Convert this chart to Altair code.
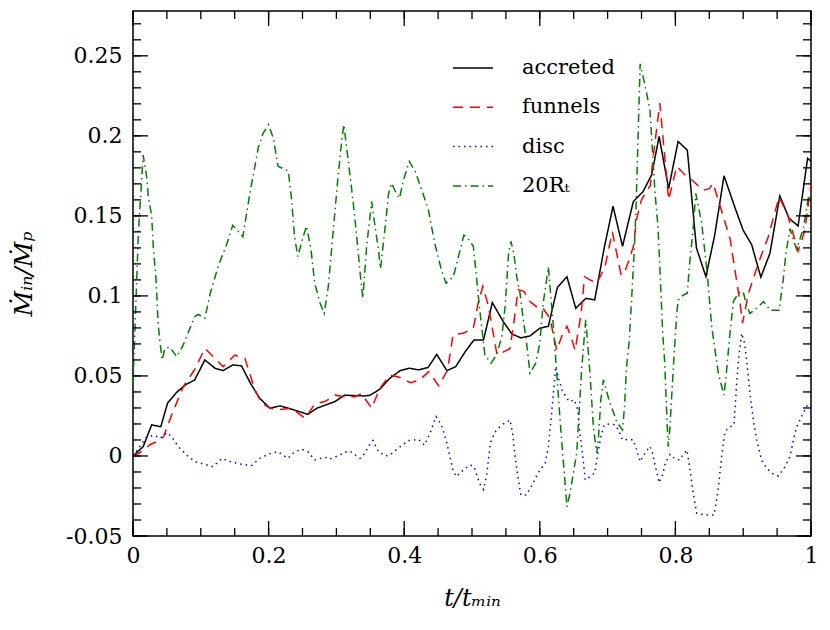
import altair as alt
import pandas as pd

# ---------------- data ----------------
acc_t = [0.0, 0.015, 0.0275, 0.041, 0.051, 0.064, 0.077, 0.091, 0.106, 0.121,
         0.133, 0.147, 0.160, 0.173, 0.187, 0.202, 0.217, 0.234, 0.258, 0.271,
         0.298, 0.312, 0.327, 0.342, 0.35, 0.364, 0.379, 0.394, 0.408, 0.421,
         0.435, 0.448, 0.463, 0.476, 0.49, 0.503, 0.517, 0.53, 0.546, 0.559,
         0.572, 0.5855, 0.6, 0.6126, 0.626, 0.64, 0.653, 0.668, 0.681, 0.695,
         0.708, 0.722, 0.738, 0.752, 0.765, 0.776, 0.79, 0.804, 0.8176, 0.831,
         0.845, 0.858, 0.8717, 0.888, 0.9, 0.9125, 0.926, 0.9395, 0.954, 0.9676,
         0.981, 0.995, 1.0]
acc_y = [0, 0.0058, 0.0194, 0.0183, 0.033, 0.0396, 0.0444, 0.0475, 0.06, 0.0548,
         0.0533, 0.0569, 0.0563, 0.0456, 0.036, 0.0298, 0.0313, 0.0292, 0.026, 0.0298,
         0.034, 0.038, 0.0377, 0.0375, 0.038, 0.0417, 0.0486, 0.0533, 0.0548, 0.0538,
         0.0552, 0.0635, 0.0533, 0.0558, 0.0652, 0.0725, 0.0725, 0.0958, 0.084, 0.0762,
         0.0738, 0.075, 0.0798, 0.081, 0.1054, 0.112, 0.0923, 0.0985, 0.0975, 0.13,
         0.156, 0.131, 0.159, 0.165, 0.1756, 0.1996, 0.167, 0.1965, 0.191, 0.13,
         0.112, 0.138, 0.175, 0.155, 0.141, 0.132, 0.1117, 0.1267, 0.1625, 0.1485,
         0.1437, 0.186, 0.184]

fun_t = [0.0, 0.01, 0.025, 0.035, 0.045, 0.057, 0.074, 0.091, 0.106, 0.121,
         0.133, 0.150, 0.165, 0.18, 0.19, 0.202, 0.212, 0.234, 0.254, 0.268,
         0.283, 0.298, 0.312, 0.327, 0.337, 0.352, 0.364, 0.379, 0.394, 0.409,
         0.423, 0.436, 0.451, 0.464, 0.472, 0.487, 0.502, 0.509, 0.516, 0.524,
         0.537, 0.556, 0.561, 0.568, 0.577, 0.5855, 0.595, 0.603, 0.615, 0.625,
         0.633, 0.64, 0.646, 0.652, 0.661, 0.666, 0.674, 0.684, 0.696, 0.707,
         0.72, 0.726, 0.733, 0.738, 0.743, 0.75, 0.763, 0.767, 0.777, 0.786,
         0.79, 0.802, 0.814, 0.8216, 0.841, 0.85, 0.8555, 0.869, 0.881, 0.895,
         0.899, 0.908, 0.922, 0.937, 0.953, 0.966, 0.981, 0.991, 1.0]
fun_y = [0, 0.002, 0.007, 0.009, 0.012, 0.0256, 0.0433, 0.054, 0.0673, 0.061,
         0.0558, 0.063, 0.061, 0.041, 0.033, 0.03, 0.0288, 0.0298, 0.0235, 0.0325,
         0.034, 0.038, 0.037, 0.037, 0.039, 0.0298, 0.0423, 0.0506, 0.049, 0.0458,
         0.0475, 0.0527, 0.0438, 0.0538, 0.0756, 0.0767, 0.0798, 0.0954, 0.106, 0.094,
         0.063, 0.067, 0.081, 0.104, 0.1027, 0.0965, 0.0933, 0.0933, 0.086, 0.066,
         0.0756, 0.081, 0.0745, 0.066, 0.089, 0.112, 0.11, 0.108, 0.118, 0.14,
         0.113, 0.116, 0.124, 0.131, 0.1485, 0.16, 0.169, 0.186, 0.2204, 0.179,
         0.16, 0.181, 0.1756, 0.1735, 0.166, 0.167, 0.1704, 0.152, 0.135, 0.0965,
         0.083, 0.102, 0.12, 0.137, 0.162, 0.15, 0.128, 0.141, 0.17]

disc_t = [0.0, 0.01, 0.02, 0.031, 0.04, 0.05, 0.057, 0.067, 0.079, 0.091,
          0.104, 0.118, 0.131, 0.143, 0.158, 0.175, 0.187, 0.2, 0.214, 0.228,
          0.239, 0.249, 0.258, 0.268, 0.283, 0.29, 0.305, 0.315, 0.32, 0.335,
          0.342, 0.35, 0.354, 0.362, 0.372, 0.379, 0.391, 0.406, 0.421, 0.43,
          0.438, 0.447, 0.455, 0.463, 0.472, 0.477, 0.483, 0.497, 0.503, 0.511,
          0.517, 0.522, 0.527, 0.534, 0.544, 0.556, 0.56, 0.563, 0.567, 0.572,
          0.58, 0.59, 0.6, 0.608, 0.6126, 0.6165, 0.62, 0.6234, 0.627, 0.633,
          0.643, 0.651, 0.656, 0.659, 0.663, 0.667, 0.674, 0.681, 0.685, 0.69,
          0.695, 0.7035, 0.711, 0.716, 0.722, 0.7306, 0.738, 0.743, 0.748, 0.7525,
          0.757, 0.7625, 0.766, 0.77, 0.776, 0.781, 0.785, 0.792, 0.7994, 0.806,
          0.811, 0.817, 0.8205, 0.8255, 0.8314, 0.839, 0.8486, 0.857, 0.86, 0.8633,
          0.8683, 0.873, 0.8795, 0.8864, 0.89, 0.893, 0.8977, 0.902, 0.905, 0.91,
          0.915, 0.92, 0.927, 0.935, 0.942, 0.952, 0.9617, 0.969, 0.974, 0.979,
          0.986, 0.996]
disc_y = [0, 0.006, 0.0117, 0.013, 0.011, 0.0146, 0.012, 0.0058, 0.0006, -0.0035,
          -0.005, -0.0067, -0.0015, -0.0035, -0.005, -0.006, -0.0015, 0.0012, 0.0027, -0.0015,
          0.0027, 0.0042, 0.0027, -0.0025, -0.0008, -0.002, 0.0006, 0.0027, 0.003, -0.0015,
          0.0017, 0.0079, 0.0096, 0.0027, 0, 0.0006, 0.0048, 0.0096, 0.0104, 0.0067,
          0.0142, 0.0246, 0.0194, 0.0079, -0.0088, -0.0129, -0.0102, -0.0056, -0.0067, -0.017,
          -0.021, -0.011, 0.008, 0.015, 0.0194, 0.0225, 0.0142, 0.0017, -0.011, -0.0244,
          -0.0244, -0.017, -0.0088, -0.0046, 0.0058, 0.0225, 0.039, 0.0558, 0.0496, 0.041,
          0.034, 0.035, 0.0288, 0.0142, 0.0017, -0.015, -0.0129, -0.0106, 0, 0.012,
          0.0194, 0.02, 0.0194, 0.0163, 0.01, 0.0104, 0.01, 0.0037, -0.0035, 0,
          0.003, 0.006, 0.002, -0.0056, -0.0167, -0.012, -0.0046, 0.001, -0.0019, -0.0025,
          0.0006, 0.0037, -0.0056, -0.021, -0.0358, -0.0364, -0.0369, -0.0369, -0.0296, -0.02,
          0, 0.0152, 0.018, 0.0194, 0.043, 0.06, 0.0767, 0.0704, 0.06, 0.039,
          0.0225, 0.01, -0.0025, -0.0077, -0.0108, -0.0125, -0.0067, -0.0004, 0.01, 0.0183,
          0.0246, 0.033]

rt_t = [0.0, 0.008, 0.015, 0.02, 0.0226, 0.0275, 0.03, 0.034, 0.037, 0.04,
        0.043, 0.047, 0.0546, 0.0644, 0.073, 0.084, 0.091, 0.096, 0.106, 0.114,
        0.126, 0.138, 0.147, 0.152, 0.162, 0.167, 0.172, 0.178, 0.185, 0.192,
        0.2, 0.207, 0.214, 0.229, 0.234, 0.238, 0.243, 0.251, 0.256, 0.2625,
        0.268, 0.276, 0.282, 0.288, 0.295, 0.302, 0.308, 0.311, 0.315, 0.3215,
        0.3265, 0.3314, 0.336, 0.339, 0.3446, 0.352, 0.357, 0.362, 0.365, 0.372,
        0.377, 0.3815, 0.386, 0.393, 0.399, 0.4075, 0.416, 0.426, 0.4355, 0.445,
        0.455, 0.4617, 0.4725, 0.48, 0.488, 0.492, 0.502, 0.507, 0.511, 0.519,
        0.528, 0.536, 0.544, 0.549, 0.554, 0.5575, 0.562, 0.566, 0.5708, 0.5757,
        0.58, 0.5855, 0.594, 0.6, 0.605, 0.61, 0.6126, 0.62, 0.625, 0.631,
        0.64, 0.6445, 0.6544, 0.659, 0.662, 0.6677, 0.6706, 0.674, 0.679, 0.684,
        0.6863, 0.69, 0.6937, 0.7035, 0.7084, 0.7134, 0.722, 0.725, 0.728, 0.7316,
        0.7345, 0.7394, 0.742, 0.748, 0.755, 0.7625, 0.767, 0.77, 0.7744, 0.777,
        0.7813, 0.784, 0.788, 0.7895, 0.792, 0.797, 0.802, 0.8043, 0.8117, 0.8176,
        0.8205, 0.8264, 0.83, 0.8388, 0.847, 0.8535, 0.8633, 0.8717, 0.875, 0.8805,
        0.8855, 0.893, 0.9, 0.905, 0.91, 0.92, 0.93, 0.94, 0.953, 0.959,
        0.963, 0.969, 0.974, 0.979, 0.984, 0.9887, 0.997]
rt_y = [0.045, 0.14, 0.188, 0.175, 0.162, 0.15, 0.13, 0.11, 0.083, 0.0704,
        0.06, 0.0673, 0.068, 0.062, 0.0683, 0.0798, 0.087, 0.0885, 0.086, 0.1017,
        0.119, 0.132, 0.144, 0.142, 0.137, 0.15, 0.163, 0.177, 0.193, 0.2017,
        0.207, 0.1985, 0.181, 0.178, 0.16, 0.138, 0.1246, 0.137, 0.1437, 0.129,
        0.108, 0.0954, 0.089, 0.1058, 0.139, 0.1725, 0.1975, 0.207, 0.193, 0.1704,
        0.1517, 0.1308, 0.11, 0.0985, 0.131, 0.159, 0.1433, 0.129, 0.117, 0.1433,
        0.164, 0.1704, 0.166, 0.161, 0.1725, 0.184, 0.178, 0.166, 0.154, 0.133,
        0.116, 0.108, 0.112, 0.1246, 0.138, 0.137, 0.131, 0.11, 0.093, 0.063,
        0.058, 0.063, 0.0746, 0.094, 0.127, 0.134, 0.1256, 0.112, 0.1017, 0.085,
        0.0725, 0.0517, 0.058, 0.0704, 0.0954, 0.11, 0.118, 0.081, 0.0517, 0.0163,
        -0.0317, -0.0233, 0.0017, 0.035, 0.0558, 0.085, 0.0704, 0.0517, 0.0183, 0.0017,
        0.01, 0.035, 0.0475, 0.033, 0.0277, 0.0214, 0.0163, 0.031, 0.0558, 0.0704,
        0.091, 0.129, 0.156, 0.245, 0.232, 0.216, 0.185, 0.164, 0.143, 0.118,
        0.0767, 0.06, 0.0183, 0.0058, 0.0183, 0.0558, 0.089, 0.0975, 0.1006, 0.1017,
        0.118, 0.143, 0.164, 0.1454, 0.114, 0.081, 0.0517, 0.038, 0.051, 0.0767,
        0.0965, 0.1017, 0.1027, 0.094, 0.089, 0.0923, 0.0965, 0.091, 0.091, 0.11,
        0.1267, 0.142, 0.135, 0.129, 0.136, 0.142, 0.164]

series_names = ["accreted", "funnels", "disc", "20Rₜ"]
series_colors = ["#000000", "#ff0000", "#0000ff", "#008000"]
series_dashes = [[1, 0], [10, 7], [1.5, 4], [8, 4, 1.5, 4]]

x_major = [0, 0.2, 0.4, 0.6, 0.8, 1]
x_minor = [round(0.05 * k, 2) for k in range(21)]
y_major = [-0.05, 0, 0.05, 0.1, 0.15, 0.2, 0.25]
y_minor = [round(-0.05 + 0.01 * k, 2) for k in range(33)]

# ---------------- table ----------------
rows = []
for name, ts, vs in zip(series_names, [acc_t, fun_t, disc_t, rt_t], [acc_y, fun_y, disc_y, rt_y]):
    for i, (t, v) in enumerate(zip(ts, vs)):
        rows.append({"series": name, "t": t, "y": v, "i": i})
df = pd.DataFrame(rows)

W, H = 678, 525
FONT = "DejaVu Serif"
xs = alt.Scale(domain=[0, 1], nice=False, zero=False)
ys = alt.Scale(domain=[-0.05, 0.278], nice=False, zero=False)

legend = alt.Legend(title=None, orient="none", legendX=319, legendY=36,
                    symbolType="stroke", symbolSize=1600, symbolStrokeWidth=1.5,
                    labelFont=FONT, labelFontSize=21, labelColor="black",
                    labelOffset=28, rowPadding=8.3, padding=0, labelLimit=0)

lines = alt.Chart(df).mark_line(strokeWidth=1.5).encode(
    x=alt.X("t:Q", scale=xs, axis=alt.Axis(
        orient="bottom", values=x_major, format="~g", ticks=False, domain=False,
        grid=False, labelFlush=False, labelPadding=9, labelFont=FONT,
        labelFontSize=22, labelColor="black", title="t/tₘᵢₙ", titleFont=FONT,
        titleFontSize=24, titleFontStyle="italic", titleFontWeight="normal",
        titleColor="black", titlePadding=20)),
    y=alt.Y("y:Q", scale=ys, axis=alt.Axis(
        orient="left", values=y_major,
        labelExpr="datum.value < 0 ? '-' + format(-datum.value, '~g') : format(datum.value, '~g')",
        ticks=False, domain=False, grid=False, labelPadding=11, labelFont=FONT,
        labelFontSize=22, labelColor="black", title="Ṁᵢₙ/Ṁₚ", titleFont=FONT,
        titleFontSize=25, titleFontStyle="italic", titleFontWeight="normal",
        titleColor="black", titlePadding=29)),
    color=alt.Color("series:N", scale=alt.Scale(domain=series_names, range=series_colors), legend=legend),
    strokeDash=alt.StrokeDash("series:N", scale=alt.Scale(domain=series_names, range=series_dashes), legend=legend),
    order="i:Q",
)


def x_ticks(vals, size):
    base = alt.Chart(pd.DataFrame({"t": vals})).mark_rule(color="black", strokeWidth=1.3)
    xenc = alt.X("t:Q", scale=xs, axis=None)
    return [base.encode(x=xenc, y=alt.value(H), y2=alt.value(H - size)),
            base.encode(x=xenc, y=alt.value(0), y2=alt.value(size))]


def y_ticks(vals, size):
    base = alt.Chart(pd.DataFrame({"y": vals})).mark_rule(color="black", strokeWidth=1.3)
    yenc = alt.Y("y:Q", scale=ys, axis=None)
    return [base.encode(y=yenc, x=alt.value(0), x2=alt.value(size)),
            base.encode(y=yenc, x=alt.value(W), x2=alt.value(W - size))]


layers = [lines] + x_ticks(x_major, 15) + x_ticks(x_minor, 8) + y_ticks(y_major, 15) + y_ticks(y_minor, 8)

chart = alt.layer(*layers).resolve_axis(x="independent", y="independent").properties(
    width=W, height=H,
    autosize=alt.AutoSizeParams(type="none"),
    padding={"left": 125, "top": 3, "right": 11, "bottom": 80},
    background="white",
).configure_view(stroke="black", strokeWidth=1.5)

chart.save("out.html", embed_options={"renderer": "svg", "actions": False})
